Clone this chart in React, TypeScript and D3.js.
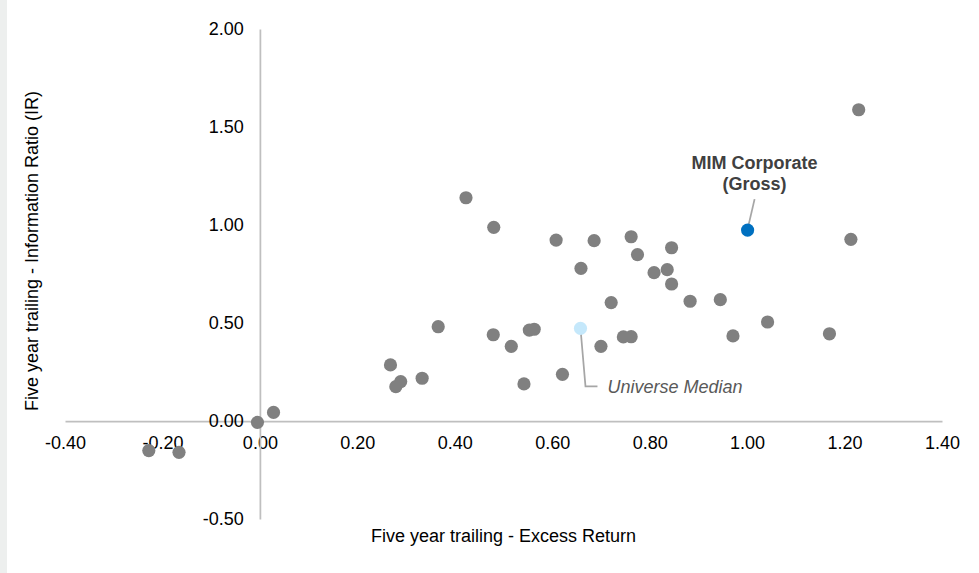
import React, { useEffect, useRef } from "react";
import * as d3 from "d3";

// Universe of managers: five year trailing excess return vs information ratio
const excessReturn = [
    -0.228, -0.166, -0.005, 0.028, 0.268, 0.289, 0.279, 0.333, 0.366, 0.423,
    0.479, 0.480, 0.516, 0.542, 0.553, 0.563, 0.608, 0.621, 0.659, 0.686,
    0.700, 0.721, 0.746, 0.762, 0.762, 0.775, 0.809, 0.836, 0.845, 0.845,
    0.883, 0.945, 0.971, 1.042, 1.169, 1.213, 1.229,
];
const infoRatio = [
    -0.151, -0.160, -0.007, 0.044, 0.286, 0.201, 0.175, 0.218, 0.481, 1.139,
    0.440, 0.988, 0.381, 0.189, 0.464, 0.468, 0.923, 0.238, 0.779, 0.920,
    0.381, 0.604, 0.429, 0.430, 0.940, 0.849, 0.757, 0.772, 0.884, 0.699,
    0.611, 0.619, 0.434, 0.505, 0.445, 0.927, 1.588,
];

const mimPoint = { x: 1.001, y: 0.974, label: ["MIM Corporate", "(Gross)"] };
const medianPoint = { x: 0.658, y: 0.473, label: "Universe Median" };

const xTicks = [-0.4, -0.2, 0, 0.2, 0.4, 0.6, 0.8, 1.0, 1.2, 1.4];
const yTicks = [-0.5, 0, 0.5, 1.0, 1.5, 2.0];

const xTitle = "Five year trailing - Excess Return";
const yTitle = "Five year trailing - Information Ratio (IR)";

const FONT = "'Liberation Sans', Arial, sans-serif";

// plain hyphen for negatives, as in the original
const fmt = (d: d3.NumberValue) => {
    const v = +d;
    return Math.abs(v) < 1e-9 ? "0.00" : v.toFixed(2);
};

export default function App() {
    const svgRef = useRef<SVGSVGElement>(null);

    useEffect(() => {
        const width = 979;
        const height = 573;
        const svg = d3.select(svgRef.current);
        svg.selectAll("*").remove();

        svg.append("rect").attr("width", width).attr("height", height).attr("fill", "#fff");
        svg.append("rect").attr("width", 7).attr("height", height).attr("fill", "#edefee");

        const x = d3.scaleLinear().domain([-0.4, 1.4]).range([65, 942]);
        const y = d3.scaleLinear().domain([-0.5, 2.0]).range([519, 29]);

        const axisColor = "#bfbfbf";

        // x axis crosses at y = 0
        const gx = svg.append("g")
            .attr("transform", `translate(0,${y(0)})`)
            .call(d3.axisBottom(x).tickValues(xTicks).tickSize(0).tickPadding(15).tickFormat(fmt));
        gx.select(".domain").attr("stroke", axisColor).attr("stroke-width", 1.75);

        // y axis crosses at x = 0
        const gy = svg.append("g")
            .attr("transform", `translate(${x(0)},0)`)
            .call(d3.axisLeft(y).tickValues(yTicks).tickSize(0).tickPadding(16).tickFormat(fmt));
        gy.select(".domain").attr("stroke", axisColor).attr("stroke-width", 1.75);

        svg.selectAll(".tick text")
            .attr("font-family", FONT)
            .attr("font-size", 18)
            .attr("fill", "#000");

        // axis titles
        svg.append("text")
            .attr("x", 503.5)
            .attr("y", 542)
            .attr("text-anchor", "middle")
            .attr("font-family", FONT)
            .attr("font-size", 18)
            .attr("fill", "#000")
            .text(xTitle);

        svg.append("text")
            .attr("transform", `translate(38,251) rotate(-90)`)
            .attr("text-anchor", "middle")
            .attr("font-family", FONT)
            .attr("font-size", 18)
            .attr("fill", "#000")
            .text(yTitle);

        // universe points
        svg.append("g")
            .selectAll("circle")
            .data(excessReturn.map((v, i) => [v, infoRatio[i]]))
            .join("circle")
            .attr("cx", d => x(d[0]))
            .attr("cy", d => y(d[1]))
            .attr("r", 6.6)
            .attr("fill", "#808080");

        // leader lines
        const leaderColor = "#a6a6a6";
        const mx = x(mimPoint.x);
        const my = y(mimPoint.y);
        svg.append("line")
            .attr("x1", mx + 7).attr("y1", my - 31)
            .attr("x2", mx).attr("y2", my - 1)
            .attr("stroke", leaderColor).attr("stroke-width", 1.75);

        const ux = x(medianPoint.x);
        const uy = y(medianPoint.y);
        svg.append("path")
            .attr("d", `M${ux},${uy} L${ux + 5},${uy + 58} L${ux + 17},${uy + 58}`)
            .attr("fill", "none")
            .attr("stroke", leaderColor).attr("stroke-width", 1.75);

        // highlighted points
        svg.append("circle")
            .attr("cx", ux).attr("cy", uy).attr("r", 6.6)
            .attr("fill", "#c5e8fb");
        svg.append("circle")
            .attr("cx", mx).attr("cy", my).attr("r", 6.6)
            .attr("fill", "#0070c0");

        // labels
        const mimLabel = svg.append("text")
            .attr("text-anchor", "middle")
            .attr("font-family", FONT)
            .attr("font-size", 18)
            .attr("font-weight", "bold")
            .attr("fill", "#404040");
        mimPoint.label.forEach((line, i) => {
            mimLabel.append("tspan")
                .attr("x", mx + 7)
                .attr("y", my - 61 + i * 21)
                .text(line);
        });

        svg.append("text")
            .attr("x", ux + 27)
            .attr("y", uy + 65)
            .attr("font-family", FONT)
            .attr("font-size", 18)
            .attr("font-style", "italic")
            .attr("fill", "#595959")
            .text(medianPoint.label);
    }, []);

    return (
        <svg
            ref={svgRef}
            width={979}
            height={573}
            style={{ position: "absolute", left: 0, top: 0 }}
        />
    );
}
